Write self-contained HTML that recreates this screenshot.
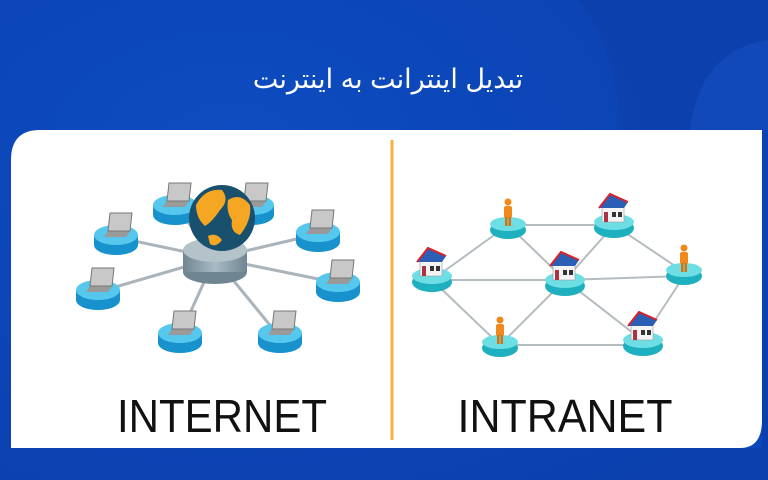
<!DOCTYPE html>
<html><head><meta charset="utf-8"><style>
html,body{margin:0;padding:0;overflow:hidden}
body{width:768px;height:480px;overflow:hidden;background:#0d46b8;font-family:"Liberation Sans",sans-serif}
svg{display:block}
</style></head><body>
<svg width="768" height="480" viewBox="0 0 768 480" xmlns="http://www.w3.org/2000/svg">
<defs>
<radialGradient id="bg" cx="0.3" cy="0.3" r="0.9"><stop offset="0" stop-color="#0d4cc0"/><stop offset="1" stop-color="#0b3fae"/></radialGradient>
<linearGradient id="hub" x1="0" y1="0" x2="1" y2="0"><stop offset="0" stop-color="#6f8692"/><stop offset="0.5" stop-color="#a9bac4"/><stop offset="1" stop-color="#6f8692"/></linearGradient>
<g id="lap">
<ellipse cx="0" cy="10" rx="22" ry="10" fill="#1792cc"/>
<rect x="-22" y="0" width="44" height="10" fill="#1792cc"/>
<ellipse cx="0" cy="0" rx="22" ry="10" fill="#56c8ee"/>
<polygon points="-12,2 10,2 14,-4 -8,-4" fill="#9a9a9a"/>
<polygon points="-8,-4 14,-4 16,-22 -6,-22" fill="#c8c8c8" stroke="#777" stroke-width="1"/>
</g>
<g id="house">
<ellipse cx="0" cy="8" rx="20" ry="10" fill="#1fb0bf"/>
<ellipse cx="0" cy="2" rx="20" ry="8" fill="#6ddfe4"/>
<rect x="-12" y="-14" width="22" height="16" fill="#f4f4f4" stroke="#999" stroke-width="0.6"/>
<polygon points="-15,-12 -4,-26 14,-18 10,-12" fill="#2a5fb5"/>
<polyline points="-15,-12 -4,-26 14,-18" fill="none" stroke="#d8222a" stroke-width="2"/>
<rect x="-2" y="-8" width="4" height="5" fill="#333"/><rect x="4" y="-8" width="4" height="5" fill="#333"/>
<rect x="-10" y="-8" width="4" height="10" fill="#a34"/>
</g>
<g id="person">
<ellipse cx="0" cy="8" rx="18" ry="9" fill="#1fb0bf"/>
<ellipse cx="0" cy="2" rx="18" ry="7" fill="#6ddfe4"/>
<circle cx="0" cy="-20" r="3.5" fill="#f08a1c"/>
<rect x="-4" y="-16" width="8" height="12" rx="2" fill="#f08a1c"/>
<rect x="-3" y="-5" width="2.5" height="9" fill="#d8700c"/><rect x="0.5" y="-5" width="2.5" height="9" fill="#d8700c"/>
</g>
</defs>
<rect width="768" height="480" fill="url(#bg)"/>
<path d="M580,0 Q620,60 620,130 H768 V0 Z" fill="#0c3ea6" opacity="0.5"/>
<path d="M768,40 Q700,50 690,130 H768 Z" fill="#1550c4" opacity="0.6"/>
<text x="388" y="88" text-anchor="middle" fill="#fff" font-size="27" font-family="'Liberation Sans','DejaVu Sans',sans-serif">تبدیل اینترانت به اینترنت</text>
<path d="M40,130 H762 V448 H11 V160 Q11,130 40,130 Z" fill="#fff"/>
<path d="M740,448 Q762,448 762,420 V448 Z" fill="#0d46b8"/>
<line x1="392" y1="140" x2="392" y2="440" stroke="#f7b244" stroke-width="3"/>
<g stroke="#aab4ba" stroke-width="3">
<line x1="215" y1="258" x2="175" y2="205"/><line x1="215" y1="258" x2="250" y2="205"/>
<line x1="215" y1="258" x2="115" y2="237"/><line x1="215" y1="258" x2="318" y2="234"/>
<line x1="215" y1="258" x2="98" y2="292"/><line x1="215" y1="258" x2="338" y2="283"/>
<line x1="215" y1="258" x2="180" y2="335"/><line x1="215" y1="258" x2="278" y2="335"/>
</g>
<use href="#lap" x="175" y="205"/><use href="#lap" x="252" y="205"/>
<use href="#lap" x="116" y="235"/><use href="#lap" x="318" y="232"/>
<use href="#lap" x="98" y="290"/><use href="#lap" x="338" y="282"/>
<use href="#lap" x="180" y="333"/><use href="#lap" x="280" y="333"/>
<ellipse cx="215" cy="272" rx="32" ry="12" fill="#6f8692"/>
<rect x="183" y="250" width="64" height="22" fill="url(#hub)"/>
<ellipse cx="215" cy="250" rx="32" ry="12" fill="#b4c2ca"/>
<circle cx="222" cy="218" r="33" fill="#18506e"/>
<path d="M196,205 Q205,188 222,190 Q230,200 220,210 Q212,222 205,226 Q196,218 196,205Z M228,200 Q240,192 250,205 Q252,220 240,235 Q230,232 232,220 Q226,212 228,200Z M208,236 Q216,232 222,240 Q216,248 210,244Z" fill="#f5a623"/>
<text x="222" y="432" text-anchor="middle" font-size="46" fill="#111" textLength="210" lengthAdjust="spacingAndGlyphs">INTERNET</text>
<g stroke="#b4bcc0" stroke-width="2">
<line x1="508" y1="225" x2="614" y2="225"/><line x1="508" y1="225" x2="432" y2="280"/>
<line x1="508" y1="225" x2="565" y2="280"/><line x1="614" y1="225" x2="565" y2="280"/>
<line x1="614" y1="225" x2="684" y2="272"/><line x1="432" y1="280" x2="565" y2="280"/>
<line x1="565" y1="280" x2="684" y2="276"/><line x1="432" y1="280" x2="500" y2="345"/>
<line x1="565" y1="280" x2="500" y2="345"/><line x1="565" y1="280" x2="642" y2="340"/>
<line x1="500" y1="345" x2="642" y2="345"/><line x1="684" y1="276" x2="642" y2="340"/>
</g>
<use href="#person" x="508" y="222"/><use href="#house" x="614" y="220"/>
<use href="#house" x="432" y="274"/><use href="#house" x="565" y="278"/>
<use href="#person" x="684" y="268"/><use href="#person" x="500" y="340"/>
<use href="#house" x="643" y="338"/>
<text x="565" y="432" text-anchor="middle" font-size="46" fill="#111" textLength="215" lengthAdjust="spacingAndGlyphs">INTRANET</text>
</svg>
</body></html>
